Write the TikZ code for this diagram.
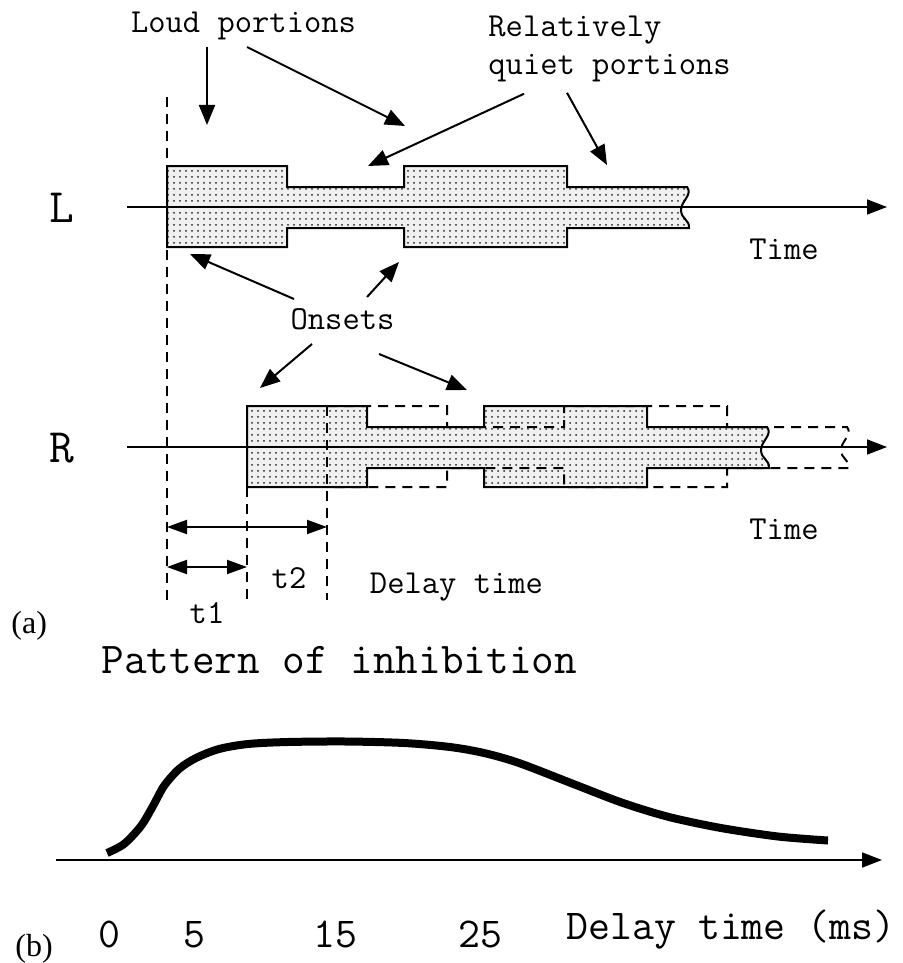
\documentclass[tikz,border=0pt]{standalone}
\usepackage{fontspec}
\newfontfamily\capfont{Liberation Serif}
\usetikzlibrary{arrows.meta, calc, patterns}

% outline of the left-ear signal, pixel units
\newcommand\sigoutline{(167,166) -- (287,166) -- (287,187) -- (404,187) -- (404,166)
  -- (567,166) -- (567,187) -- (687,187)
  .. controls (693,195) and (681,201) .. (681,210)
  .. controls (681,219) and (690,220) .. (689,228)
  -- (567,228) -- (567,247) -- (404,247) -- (404,228) -- (287,228) -- (287,247) -- (167,247)}

\begin{document}
\begin{tikzpicture}[
  x=0.5pt, y=-0.5pt,
  lab/.style={font=\ttfamily\fontsize{16.8}{19}\selectfont, inner sep=0pt},
  big/.style={font=\ttfamily\fontsize{24}{26}\selectfont, inner sep=0pt},
  title/.style={font=\ttfamily\fontsize{22}{24}\selectfont, inner sep=0pt},
  tick/.style={font=\ttfamily\fontsize{21.3}{23}\selectfont, inner sep=0pt},
  part/.style={font=\capfont\fontsize{16}{18}\selectfont, inner sep=0pt},
  stip/.style={pattern=dots, pattern color=black!85, preaction={fill=gray!12}},
  wave/.style={line width=1pt, line join=miter},
  guide/.style={dashed, dash pattern=on 5pt off 3.5pt, line width=1pt},
  axis/.style={-{Triangle[length=10pt, width=7.5pt]}, line width=0.8pt},
  ptr/.style={-{Triangle[length=10pt, width=8pt]}, line width=1pt},
  dim/.style={{Triangle[length=10pt, width=7pt]}-{Triangle[length=10pt, width=7pt]}, line width=1pt},
  curve/.style={line width=4pt},
]
\useasboundingbox (0,0) rectangle (902,963);

% signals
\fill[stip] \sigoutline -- cycle;
\fill[stip, shift={(80,240)}] \sigoutline -- cycle;

\coordinate (g0) at (167,97);   \coordinate (g0b) at (167,600);
\coordinate (g1) at (247,487);  \coordinate (g1b) at (247,600);
\coordinate (g2) at (327,406);  \coordinate (g2b) at (327,600);
\draw[guide] (g0) -- (g0b);
\draw[guide] (g1) -- (g1b);
\draw[guide] (g2) -- (g2b);
\draw[guide, shift={(160,240)}] \sigoutline;

\draw[wave] \sigoutline -- cycle;
\draw[wave, shift={(80,240)}] \sigoutline -- cycle;

\coordinate (la) at (127,207);  \coordinate (lb) at (887,207);
\coordinate (ra) at (127,447);  \coordinate (rb) at (887,447);
\draw[axis] (la) -- (lb);
\draw[axis] (ra) -- (rb);

\node[big, anchor=base] (L) at (62,222) {L};
\node[big, anchor=base] (R) at (62,462) {R};
\node[lab, anchor=base] (timeL) at (784,259) {Time};
\node[lab, anchor=base] (timeR) at (784,539) {Time};

% labels with pointers
\node[lab, anchor=base] (loud) at (243.5,33) {Loud portions};
\node[lab, anchor=north west, align=left] (quiet) at (488,16) {Relatively\\quiet portions};
\node[lab, anchor=base] (ons) at (342.5,329) {Onsets};

\coordinate (lA) at (207,125);  \coordinate (lB) at (405,126);
\coordinate (qA) at (368,166);  \coordinate (qB) at (607,165);
\coordinate (oA) at (190,254);  \coordinate (oB) at (399,262);
\coordinate (oC) at (260,388);  \coordinate (oD) at (467,390);
\draw[ptr] ($(loud.base)+(-36.5,14)$) -- (lA);
\draw[ptr] ($(loud.base)+(3.5,14)$) -- (lB);
\draw[ptr] ($(quiet.south west)+(36,11)$) -- (qA);
\draw[ptr] ($(quiet.south west)+(79,10)$) -- (qB);
\draw[ptr] ($(ons.base)+(-48.5,-30)$) -- (oA);
\draw[ptr] ($(ons.base)+(24.5,-32)$) -- (oB);
\draw[ptr] ($(ons.base)+(-30.5,15)$) -- (oC);
\draw[ptr] ($(ons.base)+(36.5,25)$) -- (oD);

% delays
\draw[dim] (g0 |- 0,527) -- (g2 |- 0,527);
\draw[dim] (g0 |- 0,567) -- (g1 |- 0,567);
\node[lab, anchor=base] (t2) at (289,588) {t2};
\node[lab, anchor=base] (t1) at (207,623) {t1};
\node[lab, anchor=base] (delay) at (456.5,593) {Delay time};
\node[part, anchor=base west] (pa) at (11,633) {(a)};

% inhibition curve
\node[title, anchor=base west] (pat) at (101,673) {Pattern of inhibition};
\coordinate (ba) at (56,860);  \coordinate (bb) at (882,860);
\draw[axis] (ba) -- (bb);
\draw[curve] plot[smooth, tension=0.5] coordinates {(107,853) (124,844) (141,826)
  (153,806) (164,786) (179,769) (196,758) (219,749) (248,744) (288,742) (346,741.5)
  (404,743) (450,747) (484,753) (519,763) (576,785) (623,803) (669,817) (721,828)
  (778,836.5) (828,840.5)};

\node[tick, anchor=base] (x0) at (109.5,947) {0};
\node[tick, anchor=base] (x5) at (194,947) {5};
\node[tick, anchor=base] (x15) at (335.4,947) {15};
\node[tick, anchor=base] (x25) at (480,947) {25};
\node[tick, anchor=base] (dms) at (731,939) {Delay time (ms)};
\node[part, anchor=base west] (pb) at (15,956) {(b)};
\end{tikzpicture}
\end{document}
